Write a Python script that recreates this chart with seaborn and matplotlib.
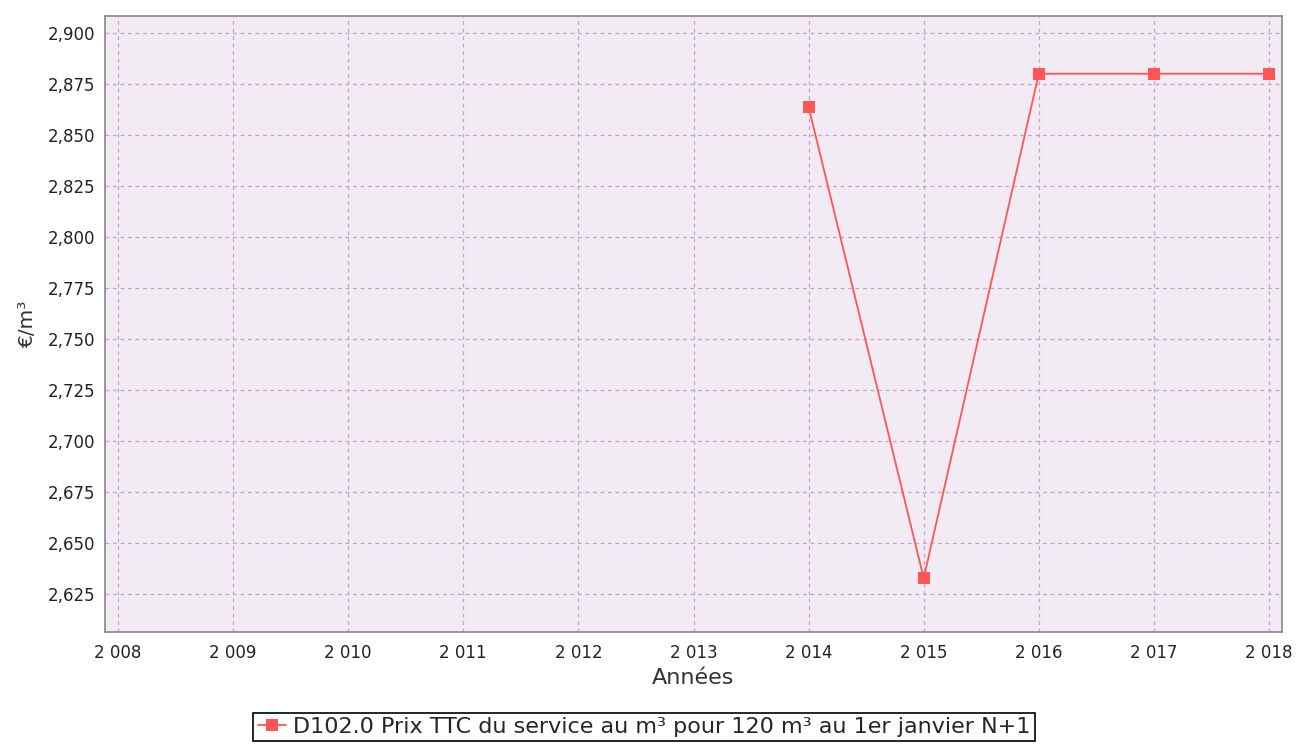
import matplotlib
matplotlib.use("Agg")
import matplotlib.pyplot as plt
import seaborn as sns
import pandas as pd
from matplotlib.ticker import FuncFormatter, MultipleLocator

years = [2014, 2015, 2016, 2017, 2018]
prix = [2.8637, 2.6328, 2.88, 2.88, 2.88]
series_label = "D102.0 Prix TTC du service au m³ pour 120 m³ au 1er janvier N+1"

df = pd.DataFrame({"Années": years, "Prix": prix, "Série": series_label})

sns.set_style("white")
plt.rcParams['font.family'] = ['DejaVu Sans']

fig = plt.figure(figsize=(12.98, 7.44), dpi=100)
ax = fig.add_axes([105/1298, 1-632/744, (1282-105)/1298, (632-16)/744])
ax.set_facecolor("#F2EBF3")

sns.lineplot(data=df, x="Années", y="Prix", hue="Série", palette=["#FF5555"],
             marker="s", markersize=9, markeredgewidth=0, linewidth=1.3, ax=ax, legend=True)

ax.set_xlim(2007.887, 2018.113)
ax.set_ylim(2.6064, 2.9083)
ax.xaxis.set_major_locator(MultipleLocator(1))
ax.yaxis.set_major_locator(MultipleLocator(0.025))
ax.xaxis.set_major_formatter(FuncFormatter(lambda v, p: f"{int(round(v)):,}".replace(",", " ")))
ax.yaxis.set_major_formatter(FuncFormatter(lambda v, p: f"{v:.3f}".replace(".", ",")))
ax.grid(True, color="#C6A0CC", linestyle=(0, (3, 3)), linewidth=0.9)
for s in ax.spines.values():
    s.set_color("#888888")
    s.set_linewidth(1.2)
ax.tick_params(axis="both", length=4, width=1, color="#888888", labelsize=12, labelcolor="#222222", direction="out")
ax.tick_params(axis="x", pad=5)
ax.tick_params(axis="y", pad=3)
ax.set_xlabel("Années", fontsize=16, color="#333333", labelpad=4)
ax.set_ylabel("€/m³", fontsize=14.5, color="#333333", labelpad=8)

handles, labels = ax.get_legend_handles_labels()
ax.get_legend().remove()
leg = fig.legend(handles, labels, loc="center", bbox_to_anchor=(644/1298, 1-727/744),
                 frameon=True, fontsize=16, fancybox=False, borderpad=0.2, handlelength=1.3,
                 handletextpad=0.3, borderaxespad=0)
leg.get_frame().set_edgecolor("black")
leg.get_frame().set_linewidth(1.2)
leg.get_frame().set_facecolor("white")
leg.get_frame().set_alpha(1)

fig.savefig("out.png", dpi=100)
